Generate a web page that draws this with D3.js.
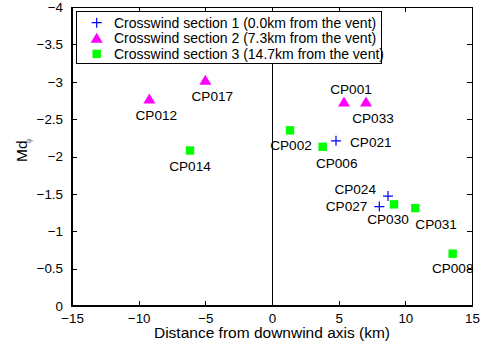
<!DOCTYPE html>
<meta charset="utf-8">
<style>
  body { margin: 0; background: #fff; }
  svg { font-family: "Liberation Sans", Arial, sans-serif; }
  .axis path { display: none; }
  .axis line { stroke: #000; shape-rendering: crispEdges; }
  .axis text { fill: #000; font-size: 13.4px; }
  .lbl { font-size: 13.6px; fill: #000; }
  .leg { font-size: 14px; fill: #000; }
  .title { font-size: 15.5px; fill: #000; }
</style>
<body>
<script src="https://d3js.org/d3.v7.min.js"></script>
<script>
// station names, distance from downwind axis (km), Md_phi, section
var names   = ["CP001", "CP033", "CP017", "CP012", "CP014", "CP002", "CP006", "CP021", "CP024", "CP027", "CP030", "CP031", "CP008"];
var dist    = [5.4, 7.05, -5.0, -9.2, -6.15, 1.35, 3.8, 4.8, 8.7, 8.05, 9.15, 10.75, 13.55];
var mdphi   = [-2.73, -2.73, -3.02, -2.77, -2.08, -2.35, -2.13, -2.21, -1.47, -1.33, -1.36, -1.31, -0.70];
var section = [2, 2, 2, 2, 3, 3, 3, 1, 1, 1, 3, 3, 3];

var seriesNames = [
  "Crosswind section 1 (0.0km from the vent)",
  "Crosswind section 2 (7.3km from the vent)",
  "Crosswind section 3 (14.7km from the vent)"
];
var seriesColors = ["#0000ff", "#ff00ff", "#00ff00"];

var xTicks = [-15, -10, -5, 0, 5, 10, 15];
var yTicks = [0, -0.5, -1, -1.5, -2, -2.5, -3, -3.5, -4];

// where each label sits relative to its marker
var labelPos = {
  CP001: [7, -13, "middle"], CP033: [7, 16, "middle"], CP017: [7, 16, "middle"],
  CP012: [7, 16, "middle"], CP014: [0, 16, "middle"], CP002: [1, 15, "middle"],
  CP006: [14, 16, "middle"], CP021: [14, 1, "start"], CP024: [-12, -7, "end"],
  CP027: [-12, 0, "end"], CP030: [-6, 15, "middle"], CP031: [0, 16, "start"],
  CP008: [0, 15, "middle"]
};

var W = 480, H = 345;
var pl = 72, pr = 472, pt = 7, pb = 306;

var svg = d3.select("body").append("svg").attr("width", W).attr("height", H);

var x = d3.scaleLinear().domain([-15, 15]).range([pl, pr]);
var y = d3.scaleLinear().domain([0, -4]).range([pb, pt]);

var fmt = function(d) { return String(d).replace("-", "\u2212"); };

// box
svg.append("rect").attr("x", pl).attr("y", pt)
  .attr("width", pr - pl).attr("height", pb - pt)
  .attr("fill", "#fff").attr("stroke", "#000").attr("stroke-width", 1)
  .attr("shape-rendering", "crispEdges");

svg.append("g").attr("class", "axis")
  .attr("transform", "translate(0," + pb + ")")
  .call(d3.axisBottom(x).tickValues(xTicks).tickFormat(fmt).tickSizeInner(-5).tickPadding(7));
svg.append("g").attr("class", "axis")
  .attr("transform", "translate(0," + pt + ")")
  .call(d3.axisTop(x).tickValues(xTicks).tickFormat("").tickSizeInner(-5));
svg.append("g").attr("class", "axis")
  .attr("transform", "translate(" + pl + ",0)")
  .call(d3.axisLeft(y).tickValues(yTicks).tickFormat(fmt).tickSizeInner(-5).tickPadding(9));
svg.append("g").attr("class", "axis")
  .attr("transform", "translate(" + pr + ",0)")
  .call(d3.axisRight(y).tickValues(yTicks).tickFormat("").tickSizeInner(-5));

// thick left and bottom spines
svg.append("line").attr("x1", pl).attr("x2", pl).attr("y1", pt).attr("y2", pb + 1)
  .attr("stroke", "#000").attr("stroke-width", 2);
svg.append("line").attr("x1", pl - 1).attr("x2", pr).attr("y1", pb).attr("y2", pb)
  .attr("stroke", "#000").attr("stroke-width", 2);

// zero line
svg.append("line").attr("x1", x(0)).attr("x2", x(0)).attr("y1", pt).attr("y2", pb)
  .attr("stroke", "#000").attr("stroke-width", 1).attr("shape-rendering", "crispEdges");

function drawMarker(g, s) {
  if (s === 1) {
    g.append("path").attr("d", "M-5,0H5M0,-5V5")
      .attr("stroke", seriesColors[0]).attr("stroke-width", 1.2).attr("fill", "none");
  } else if (s === 2) {
    g.append("path").attr("d", "M0,-5.5L6,4.5L-6,4.5Z").attr("fill", seriesColors[1]);
  } else {
    g.append("rect").attr("x", -4.2).attr("y", -4.2).attr("width", 8.4).attr("height", 8.4)
      .attr("fill", seriesColors[2]);
  }
}

names.forEach(function(n, i) {
  var g = svg.append("g").attr("transform", "translate(" + x(dist[i]) + "," + y(mdphi[i]) + ")");
  drawMarker(g, section[i]);
  var p = labelPos[n];
  svg.append("text").attr("class", "lbl")
    .attr("x", x(dist[i]) + p[0]).attr("y", y(mdphi[i]) + p[1])
    .attr("dy", "0.35em").attr("text-anchor", p[2]).text(n);
});

// legend
var lg = svg.append("g");
lg.append("rect").attr("x", 76.5).attr("y", 11.5).attr("width", 305).attr("height", 52)
  .attr("fill", "#fff").attr("stroke", "#000").attr("stroke-width", 1);
seriesNames.forEach(function(s, i) {
  var yy = 22.7 + i * 15.6;
  var g = lg.append("g").attr("transform", "translate(96.7," + yy + ")");
  drawMarker(g, i + 1);
  lg.append("text").attr("class", "leg").attr("x", 114).attr("y", yy).attr("dy", "0.35em").text(s);
});

// axis titles
svg.append("text").attr("class", "title").attr("x", (pl + pr) / 2).attr("y", 333)
  .attr("text-anchor", "middle").attr("dy", "0.35em").text("Distance from downwind axis (km)");
var yl = svg.append("text").attr("class", "title")
  .attr("transform", "translate(27,162) rotate(-90)")
  .attr("text-anchor", "start");
yl.append("tspan").text("Md");
yl.append("tspan").attr("dx", -3).attr("dy", 4).attr("font-size", "8px").attr("fill", "#777").text("\u03c6");
</script>
</body>
